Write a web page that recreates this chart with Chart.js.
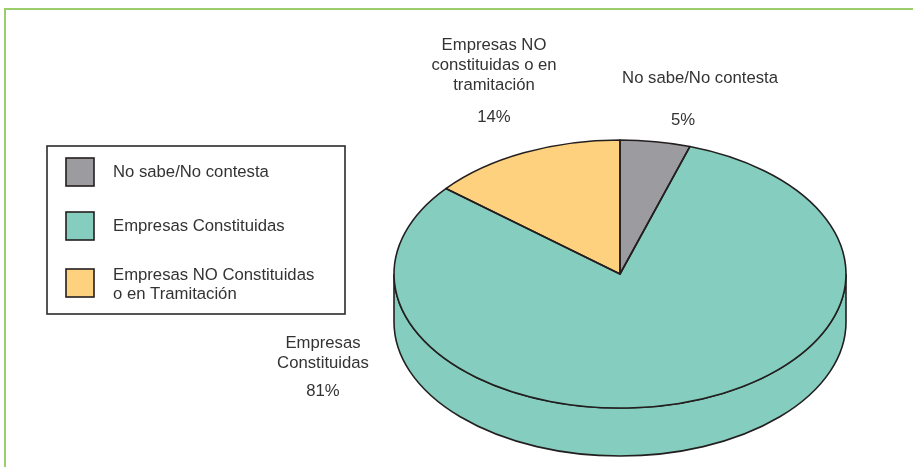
<!DOCTYPE html>
<html>
<head>
<meta charset="utf-8">
<script src="https://cdn.jsdelivr.net/npm/chart.js@4"></script>
<style>
  html, body { margin: 0; padding: 0; background: #fff; }
  canvas { display: block; }
</style>
</head>
<body>
<canvas id="myChart" width="913" height="467"></canvas>
<script>
// data
const categories = ["No sabe/No contesta", "Empresas Constituidas", "Empresas NO Constituidas o en Tramitación"];
const values = [5, 81, 14];
const sliceColors = ["#9c9b9f", "#85cebf", "#fdd17d"];
const legendLines = [["No sabe/No contesta"], ["Empresas Constituidas"], ["Empresas NO Constituidas", "o en Tramitación"]];
const sliceLabelLines = [["No sabe/No contesta"], ["Empresas", "Constituidas"], ["Empresas NO", "constituidas o en", "tramitación"]];

// look of the 3d pie
const TILT = 0.593;      // ry / rx
const DEPTH = 48;        // height of the side wall
const CENTER_Y = 274;    // where the pie top sits
const OUTLINE = "#231f20";
const LINE_W = 1.6;
const TEXT = "#333333";
const FONT = '16.7px "Liberation Sans", Arial, sans-serif';
const LINE_H = 20;
// label places (text centre, percent centre)
const labelPos = [
    {x: 700, y: 78, px: 683, py: 120},
    {x: 323, y: 343, px: 323, py: 391},
    {x: 494, y: 45, px: 494, py: 117}
];

var total = values.reduce((a, b) => a + b, 0);

const pie3d = {
    id: "pie3d",
    beforeDraw(chart) {
        // green frame, only top & left are inside the picture
        var ctx = chart.ctx;
        ctx.save();
        ctx.strokeStyle = "#9bcd6b";
        ctx.lineWidth = 2;
        ctx.beginPath();
        ctx.moveTo(5, 467);
        ctx.lineTo(5, 9);
        ctx.lineTo(913, 9);
        ctx.stroke();
        ctx.restore();
    },
    beforeDatasetsDraw(chart) {
        var ctx = chart.ctx;
        var arcs = chart.getDatasetMeta(0).data;
        var cx = arcs[0].x, cy0 = arcs[0].y, r = arcs[0].outerRadius;
        var rx = r, ry = r * TILT;
        // side wall, only the front half (0..PI) shows
        ctx.save();
        arcs.forEach(function(arc) {
            var s = Math.max(arc.startAngle, 0);
            var e = Math.min(arc.endAngle, Math.PI);
            if (s >= e) return;
            ctx.beginPath();
            ctx.ellipse(cx, CENTER_Y, rx, ry, 0, s, e);
            ctx.ellipse(cx, CENTER_Y + DEPTH, rx, ry, 0, e, s, true);
            ctx.closePath();
            ctx.fillStyle = arc.options.backgroundColor;
            ctx.fill();
            ctx.lineWidth = LINE_W;
            ctx.strokeStyle = OUTLINE;
            ctx.stroke();
        });
        ctx.restore();
        // squash the library's pie into an ellipse
        ctx.save();
        ctx.translate(cx, CENTER_Y);
        ctx.scale(1, TILT);
        ctx.translate(-cx, -cy0);
    },
    afterDatasetsDraw(chart) {
        var ctx = chart.ctx;
        ctx.restore();
        var arcs = chart.getDatasetMeta(0).data;
        var cx = arcs[0].x, r = arcs[0].outerRadius;
        var rx = r, ry = r * TILT;
        // slice outlines on top
        ctx.save();
        ctx.lineWidth = LINE_W;
        ctx.strokeStyle = OUTLINE;
        ctx.lineJoin = "round";
        arcs.forEach(function(arc) {
            ctx.beginPath();
            ctx.moveTo(cx, CENTER_Y);
            ctx.ellipse(cx, CENTER_Y, rx, ry, 0, arc.startAngle, arc.endAngle);
            ctx.closePath();
            ctx.stroke();
        });
        ctx.restore();

        // slice labels
        ctx.save();
        ctx.font = FONT;
        ctx.fillStyle = TEXT;
        ctx.textAlign = "center";
        ctx.textBaseline = "middle";
        sliceLabelLines.forEach(function(lines, i) {
            var p = labelPos[i];
            lines.forEach(function(t, j) {
                ctx.fillText(t, p.x, p.y + j * LINE_H);
            });
            ctx.fillText(Math.round(values[i] / total * 100) + "%", p.px, p.py);
        });
        ctx.restore();

        // legend box
        ctx.save();
        ctx.strokeStyle = "#2b2b2b";
        ctx.lineWidth = 1.6;
        ctx.strokeRect(47, 146, 298, 168);
        var swTop = [158, 212, 269];
        ctx.font = FONT;
        ctx.textAlign = "left";
        ctx.textBaseline = "middle";
        legendLines.forEach(function(lines, i) {
            ctx.fillStyle = chart.data.datasets[0].backgroundColor[i];
            ctx.fillRect(66, swTop[i], 28, 28);
            ctx.lineWidth = 1.6;
            ctx.strokeStyle = OUTLINE;
            ctx.strokeRect(66, swTop[i], 28, 28);
            ctx.fillStyle = TEXT;
            var y0 = lines.length > 1 ? swTop[i] + 6 : swTop[i] + 14;
            lines.forEach(function(t, j) {
                ctx.fillText(t, 113, y0 + j * 19);
            });
        });
        ctx.restore();
    }
};

const ctx = document.getElementById("myChart");
var myPieChart = new Chart(ctx, {
    type: "pie",
    data: {
        labels: categories,
        datasets: [{
            data: values,
            backgroundColor: sliceColors,
            borderWidth: 0,
            clip: false
        }]
    },
    options: {
        responsive: false,
        animation: false,
        events: [],
        layout: {padding: {left: 394, right: 67, top: 0, bottom: 0}},
        plugins: {
            legend: {display: false},
            tooltip: {enabled: false}
        }
    },
    plugins: [pie3d]
});
</script>
</body>
</html>
